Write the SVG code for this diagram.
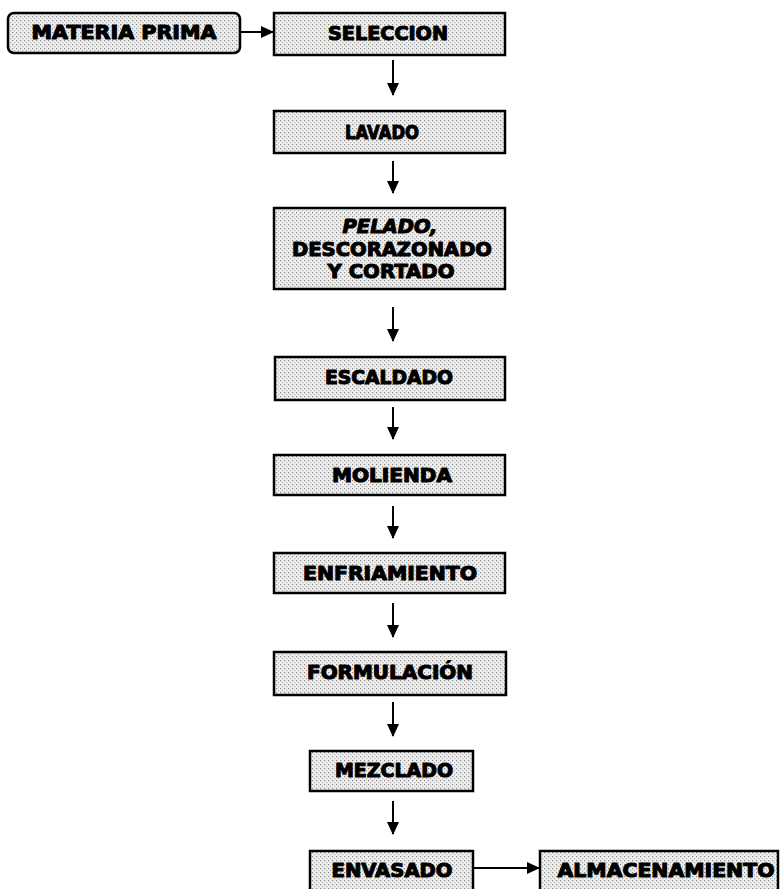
<svg xmlns="http://www.w3.org/2000/svg" width="782" height="889" viewBox="0 0 782 889">
<defs>
<pattern id="stip" width="4" height="4" patternUnits="userSpaceOnUse">
<rect width="4" height="4" fill="#efefef"/>
<rect x="0" y="0" width="1.2" height="1.2" fill="#8a8a8a"/>
<rect x="2" y="2" width="1.2" height="1.2" fill="#b0b0b0"/>
</pattern>
<marker id="ah" markerWidth="14" markerHeight="14" refX="12" refY="7" orient="auto" markerUnits="userSpaceOnUse">
<path d="M0,1 L13,7 L0,13 Z" fill="#000"/>
</marker>
</defs>
<style>
.box{fill:url(#stip);stroke:#000;stroke-width:2.5}
.t{font-family:"DejaVu Sans","Verdana",sans-serif;font-weight:bold;font-size:19px;fill:#000;stroke:#000;stroke-width:1.1;stroke-linejoin:round;text-anchor:middle}
.c{stroke:#000;stroke-width:2;fill:none;marker-end:url(#ah)}
</style>
<rect width="782" height="889" fill="#fff"/>
<g id="connectors">
<line class="c" x1="241" y1="32" x2="273" y2="32"/>
<line class="c" x1="393" y1="60" x2="393" y2="95"/>
<line class="c" x1="393" y1="161" x2="393" y2="193"/>
<line class="c" x1="393" y1="307" x2="393" y2="341"/>
<line class="c" x1="393" y1="407" x2="393" y2="439"/>
<line class="c" x1="393" y1="506" x2="393" y2="538"/>
<line class="c" x1="393" y1="603" x2="393" y2="637"/>
<line class="c" x1="393" y1="702" x2="393" y2="736"/>
<line class="c" x1="393" y1="801" x2="393" y2="834"/>
<line class="c" x1="474" y1="868" x2="539" y2="868"/>
</g>
<g id="n-materia">
<rect class="box" x="8" y="13" width="232" height="40" rx="6"/>
<text class="t" x="124" y="39" textLength="185" lengthAdjust="spacingAndGlyphs">MATERIA PRIMA</text>
</g>
<g id="n-seleccion">
<rect class="box" x="274" y="13" width="231" height="42"/>
<text class="t" x="388" y="40" textLength="120" lengthAdjust="spacingAndGlyphs">SELECCION</text>
</g>
<g id="n-lavado">
<rect class="box" x="274" y="111" width="231" height="42"/>
<text class="t" x="382" y="139" textLength="74" lengthAdjust="spacingAndGlyphs">LAVADO</text>
</g>
<g id="n-pelado">
<rect class="box" x="274" y="208" width="231" height="81"/>
<text class="t" x="390" y="233" textLength="95" lengthAdjust="spacingAndGlyphs" font-style="italic">PELADO,</text>
<text class="t" x="392" y="256" textLength="200" lengthAdjust="spacingAndGlyphs">DESCORAZONADO</text>
<text class="t" x="391" y="278" textLength="127" lengthAdjust="spacingAndGlyphs">Y CORTADO</text>
</g>
<g id="n-escaldado">
<rect class="box" x="275" y="357" width="230" height="43"/>
<text class="t" x="389" y="384" textLength="128" lengthAdjust="spacingAndGlyphs">ESCALDADO</text>
</g>
<g id="n-molienda">
<rect class="box" x="274" y="455" width="231" height="40"/>
<text class="t" x="392" y="482" textLength="120" lengthAdjust="spacingAndGlyphs">MOLIENDA</text>
</g>
<g id="n-enfriamiento">
<rect class="box" x="274" y="553" width="231" height="40"/>
<text class="t" x="390" y="580" textLength="174" lengthAdjust="spacingAndGlyphs">ENFRIAMIENTO</text>
</g>
<g id="n-formulacion">
<rect class="box" x="274" y="652" width="232" height="43"/>
<text class="t" x="390" y="679" textLength="166" lengthAdjust="spacingAndGlyphs">FORMULACIÓN</text>
</g>
<g id="n-mezclado">
<rect class="box" x="310" y="751" width="163" height="40"/>
<text class="t" x="394" y="777" textLength="118" lengthAdjust="spacingAndGlyphs">MEZCLADO</text>
</g>
<g id="n-envasado">
<rect class="box" x="310" y="851" width="163" height="42"/>
<text class="t" x="392" y="877" textLength="121" lengthAdjust="spacingAndGlyphs">ENVASADO</text>
</g>
<g id="n-almacenamiento">
<rect class="box" x="540" y="851" width="238" height="42"/>
<text class="t" x="666" y="877" textLength="217" lengthAdjust="spacingAndGlyphs">ALMACENAMIENTO</text>
</g>
</svg>
